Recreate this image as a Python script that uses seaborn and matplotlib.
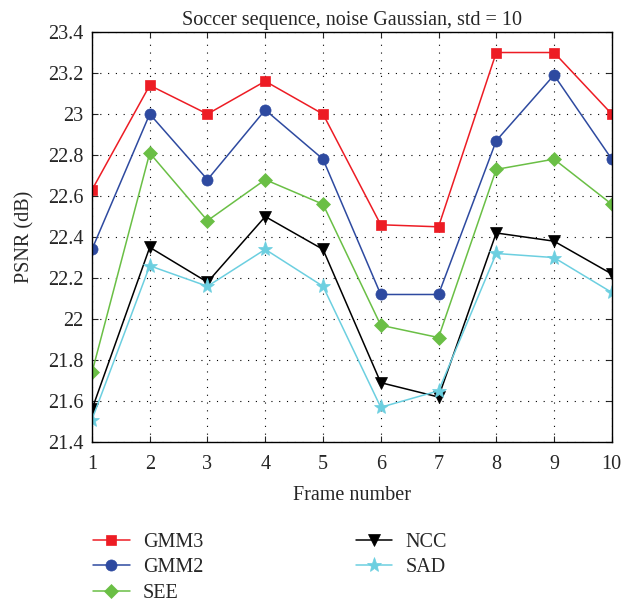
import matplotlib
matplotlib.use("Agg")
import matplotlib.pyplot as plt
import seaborn as sns
import pandas as pd

frames = [1, 2, 3, 4, 5, 6, 7, 8, 9, 10]
gmm3 = [22.63, 23.14, 23.00, 23.16, 23.00, 22.46, 22.45, 23.30, 23.30, 23.00]
gmm2 = [22.34, 23.00, 22.68, 23.02, 22.78, 22.12, 22.12, 22.87, 23.19, 22.78]
see = [21.74, 22.81, 22.48, 22.68, 22.56, 21.97, 21.91, 22.73, 22.78, 22.56]
ncc = [21.56, 22.35, 22.18, 22.50, 22.34, 21.69, 21.62, 22.42, 22.38, 22.22]
sad = [21.51, 22.26, 22.16, 22.34, 22.16, 21.57, 21.65, 22.32, 22.30, 22.13]
series_names = ["GMM3", "GMM2", "SEE", "NCC", "SAD"]
yticks = [21.4, 21.6, 21.8, 22, 22.2, 22.4, 22.6, 22.8, 23, 23.2, 23.4]
ytick_labels = ["21.4", "21.6", "21.8", "22", "22.2", "22.4", "22.6", "22.8", "23", "23.2", "23.4"]

sns.set_style("ticks")
plt.rcParams["font.family"] = ["Liberation Serif", "DejaVu Serif"]
FS = 14.5

colors = {"GMM3": "#ed1c24", "GMM2": "#2e4aa0", "SEE": "#6abf45", "NCC": "#000000", "SAD": "#6ccfe0"}
markers = {"GMM3": "s", "GMM2": "o", "SEE": "D", "NCC": "v", "SAD": "*"}
msizes = {"GMM3": 7, "GMM2": 8, "SEE": 7, "NCC": 9, "SAD": 11}

fig = plt.figure(figsize=(6.27, 6.04), dpi=100)
ax = fig.add_axes([0.1467, 0.268, 0.829, 0.679])

for name, vals in zip(series_names, [gmm3, gmm2, see, ncc, sad]):
    df = pd.DataFrame({"frame": frames, "psnr": vals})
    sns.lineplot(data=df, x="frame", y="psnr", ax=ax, color=colors[name],
                 marker=markers[name], markersize=msizes[name], markeredgewidth=0.5,
                 markeredgecolor=colors[name], linewidth=1.1, label=name, legend=False)

ax.set_xlim(1, 10)
ax.set_ylim(21.4, 23.4)
ax.set_xticks(frames)
ax.set_xticklabels([str(f) for f in frames], fontsize=FS)
ax.set_yticks(yticks)
ax.set_yticklabels(ytick_labels, fontsize=FS)
ax.grid(True, color="black", linestyle=(0, (1, 6)), linewidth=0.8)
ax.tick_params(axis="y", direction="in", top=True, right=True, length=4, pad=6)
ax.tick_params(axis="x", direction="in", top=True, right=True, length=4, pad=9)
for s in ax.spines.values():
    s.set_color("black")
    s.set_linewidth(1.0)
ax.set_xlabel("Frame number", fontsize=FS, labelpad=9)
ax.set_ylabel("PSNR (dB)", fontsize=FS, labelpad=10)
ax.set_title("Soccer sequence, noise Gaussian, std = 10", fontsize=FS, pad=5)

handles, labels = ax.get_legend_handles_labels()
fig.legend(handles, labels, loc="upper left", bbox_to_anchor=(0.12, 0.148), ncol=2,
           frameon=False, fontsize=FS, columnspacing=7.6, handlelength=1.8,
           labelspacing=0.32, handletextpad=0.65)

fig.savefig("out.png", dpi=100)
